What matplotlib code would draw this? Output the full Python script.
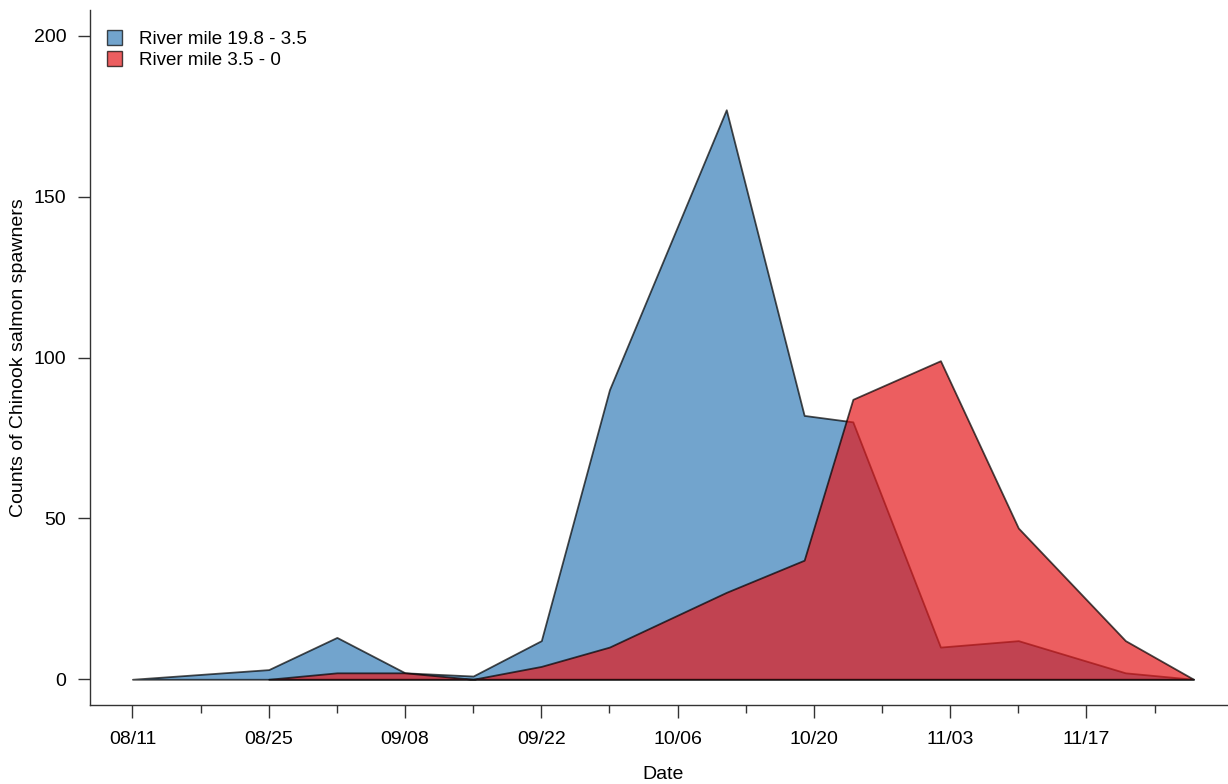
import matplotlib
matplotlib.use("Agg")
import matplotlib.pyplot as plt
import matplotlib.dates as mdates
from matplotlib.patches import Patch
import datetime as dt

plt.rcParams['font.family'] = ['Liberation Sans', 'DejaVu Sans']

# survey dates and counts
upper_dates = ['2019-08-11', '2019-08-25', '2019-09-01', '2019-09-08', '2019-09-15',
               '2019-09-22', '2019-09-29', '2019-10-11', '2019-10-19', '2019-10-24',
               '2019-11-02', '2019-11-10', '2019-11-21', '2019-11-28']
upper_counts = [0, 3, 13, 2, 1, 12, 90, 177, 82, 80, 10, 12, 2, 0]

lower_dates = ['2019-08-25', '2019-09-01', '2019-09-08', '2019-09-15',
               '2019-09-22', '2019-09-29', '2019-10-11', '2019-10-19', '2019-10-24',
               '2019-11-02', '2019-11-10', '2019-11-21', '2019-11-28']
lower_counts = [0, 2, 2, 0, 4, 10, 27, 37, 87, 99, 47, 12, 0]

labels = ['River mile 19.8 - 3.5', 'River mile 3.5 - 0']
colors = ['#377EB8', '#E41A1C']

upper_x = [dt.datetime.strptime(d, '%Y-%m-%d') for d in upper_dates]
lower_x = [dt.datetime.strptime(d, '%Y-%m-%d') for d in lower_dates]

fig = plt.figure(figsize=(12.28, 7.84), dpi=100)
ax = fig.add_axes([90 / 1228, 79 / 784, 1146 / 1228, 695 / 784])

ax.fill_between(upper_x, upper_counts, 0, facecolor=colors[0], edgecolor='black',
                alpha=0.7, linewidth=1.3)
ax.fill_between(lower_x, lower_counts, 0, facecolor=colors[1], edgecolor='black',
                alpha=0.7, linewidth=1.3)

start = dt.datetime(2019, 8, 11)
end = dt.datetime(2019, 11, 28)
span = (end - start).days
ax.set_xlim(start - dt.timedelta(days=span * 0.04), end + dt.timedelta(days=span * 0.04))
ax.set_ylim(-8, 208)

major = [start + dt.timedelta(days=14 * k) for k in range(8)]
minor = [start + dt.timedelta(days=7 + 14 * k) for k in range(8)]
ax.set_xticks(major)
ax.set_xticks(minor, minor=True)
ax.xaxis.set_major_formatter(mdates.DateFormatter('%m/%d'))
ax.set_yticks([0, 50, 100, 150, 200])

for s in ['top', 'right']:
    ax.spines[s].set_visible(False)
for s in ['left', 'bottom']:
    ax.spines[s].set_color('#333333')
    ax.spines[s].set_linewidth(1.0)

ax.tick_params(axis='x', which='major', length=9, width=1, color='#333333',
               labelsize=14, pad=10)
ax.tick_params(axis='x', which='minor', length=6, width=1, color='#333333')
ax.tick_params(axis='y', length=9, width=1, color='#333333', labelsize=14, pad=8)

ax.set_xlabel('Date', fontsize=14)
ax.xaxis.set_label_coords(0.5, -0.088)
ax.set_ylabel('Counts of Chinook salmon spawners', fontsize=14)
ax.yaxis.set_label_coords(-0.055, 0.5)

handles = [Patch(facecolor=c, edgecolor='black', alpha=0.7, linewidth=1) for c in colors]
ax.legend(handles, labels, loc='upper left', bbox_to_anchor=(0.0, 0.995), frameon=False,
          fontsize=13.5, handlelength=0.8, handleheight=0.8, handletextpad=0.9,
          labelspacing=0.17, borderaxespad=0.5)

fig.savefig('out.png', dpi=100)
